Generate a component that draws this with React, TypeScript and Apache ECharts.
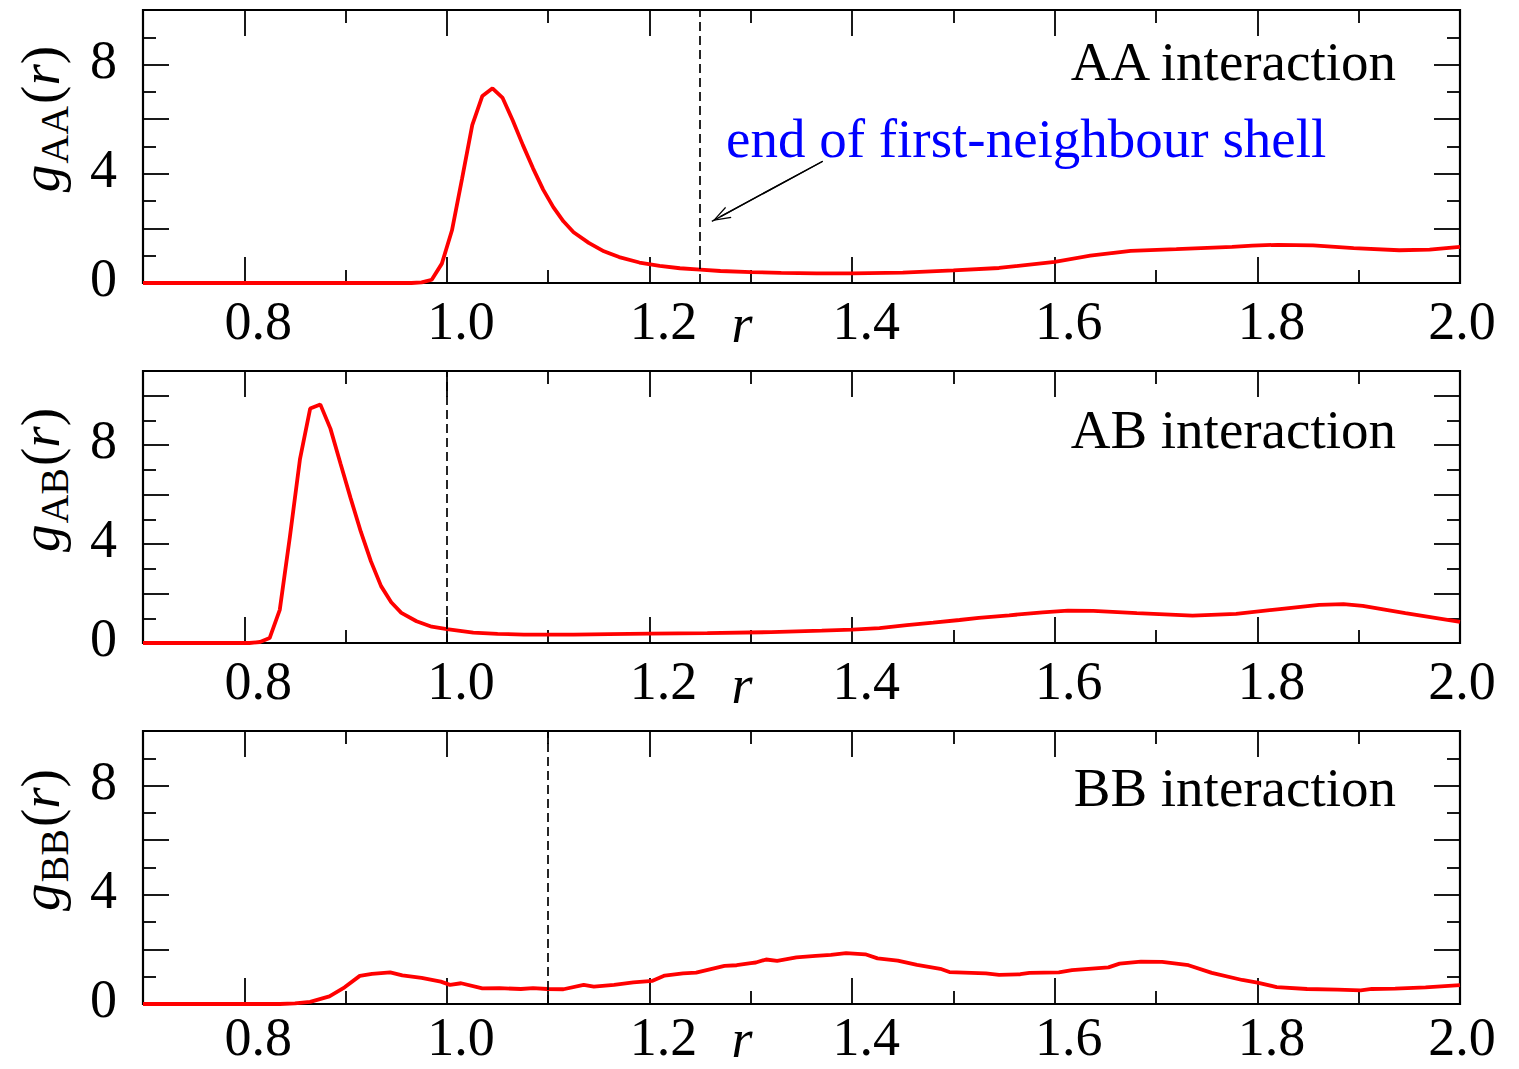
import React, { useEffect, useRef } from 'react';
import * as echarts from 'echarts';

// ---------- data ----------
const rAA = [0.70, 0.965, 0.975, 0.985, 0.995, 1.005, 1.015, 1.025, 1.035, 1.045, 1.055, 1.065, 1.075, 1.085, 1.095, 1.105, 1.115, 1.125, 1.14, 1.155, 1.17, 1.19, 1.21, 1.23, 1.25, 1.27, 1.30, 1.33, 1.365, 1.40, 1.45, 1.50, 1.545, 1.60, 1.635, 1.675, 1.72, 1.775, 1.795, 1.82, 1.855, 1.895, 1.94, 1.97, 2.0];
const gAA = [0, 0, 0.02, 0.12, 0.71, 1.93, 3.83, 5.78, 6.85, 7.13, 6.78, 5.95, 5.05, 4.2, 3.42, 2.78, 2.26, 1.86, 1.47, 1.16, 0.95, 0.75, 0.63, 0.54, 0.49, 0.44, 0.40, 0.37, 0.35, 0.35, 0.38, 0.46, 0.55, 0.77, 1.0, 1.18, 1.24, 1.32, 1.37, 1.40, 1.38, 1.28, 1.20, 1.22, 1.32];

const rAB = [0.70, 0.805, 0.8155, 0.825, 0.835, 0.845, 0.855, 0.865, 0.875, 0.885, 0.895, 0.905, 0.915, 0.925, 0.935, 0.945, 0.955, 0.97, 0.985, 1.0, 1.026, 1.05, 1.076, 1.1, 1.125, 1.16, 1.2, 1.257, 1.32, 1.37, 1.40, 1.427, 1.454, 1.48, 1.506, 1.525, 1.555, 1.588, 1.613, 1.638, 1.681, 1.736, 1.779, 1.822, 1.861, 1.885, 1.904, 1.946, 2.0];
const gAB = [0, 0, 0.04, 0.20, 1.34, 4.30, 7.45, 9.48, 9.65, 8.67, 7.25, 5.85, 4.5, 3.3, 2.3, 1.65, 1.22, 0.88, 0.66, 0.56, 0.42, 0.37, 0.34, 0.34, 0.34, 0.36, 0.38, 0.40, 0.44, 0.5, 0.54, 0.60, 0.72, 0.82, 0.93, 1.02, 1.12, 1.24, 1.31, 1.30, 1.21, 1.11, 1.18, 1.37, 1.54, 1.57, 1.50, 1.21, 0.85];

const rBB = [0.70, 0.835, 0.85, 0.865, 0.884, 0.899, 0.914, 0.926, 0.944, 0.956, 0.975, 0.994, 1.003, 1.014, 1.035, 1.052, 1.073, 1.085, 1.099, 1.115, 1.135, 1.145, 1.165, 1.184, 1.203, 1.215, 1.233, 1.246, 1.274, 1.286, 1.30, 1.305, 1.315, 1.326, 1.345, 1.364, 1.379, 1.394, 1.413, 1.425, 1.445, 1.464, 1.487, 1.496, 1.532, 1.545, 1.566, 1.575, 1.604, 1.617, 1.653, 1.664, 1.685, 1.706, 1.732, 1.755, 1.785, 1.80, 1.819, 1.849, 1.879, 1.902, 1.913, 1.936, 1.966, 2.0];
const gBB = [0, 0, 0.02, 0.08, 0.28, 0.61, 1.03, 1.10, 1.16, 1.05, 0.96, 0.82, 0.70, 0.76, 0.57, 0.58, 0.55, 0.58, 0.55, 0.54, 0.70, 0.64, 0.70, 0.79, 0.85, 1.04, 1.12, 1.15, 1.40, 1.42, 1.50, 1.52, 1.63, 1.58, 1.71, 1.76, 1.80, 1.86, 1.82, 1.67, 1.59, 1.43, 1.29, 1.17, 1.12, 1.07, 1.09, 1.14, 1.16, 1.24, 1.34, 1.48, 1.55, 1.54, 1.42, 1.14, 0.88, 0.78, 0.62, 0.55, 0.53, 0.50, 0.55, 0.56, 0.61, 0.69];

const xTickLabels = [0.8, 1.0, 1.2, 1.4, 1.6, 1.8, 2.0];
const xMajorTicks = [0.8, 1.0, 1.2, 1.4, 1.6, 1.8, 2.0];
const xMinorTicks = [0.9, 1.1, 1.3, 1.5, 1.7, 1.9];
const yTickLabels = [0, 4, 8];
const yMajorTicksList = [[2, 4, 6, 8], [2, 4, 6, 8, 10], [2, 4, 6, 8]];
const yMinorTicks = [1, 3, 5, 7, 9];
const yMaxList = [10, 11, 10];
const shellEnd = [1.25, 1.0, 1.1];
const panelTitles = ['AA interaction', 'AB interaction', 'BB interaction'];
const pairSubs = ['AA', 'AB', 'BB'];
const annotationText = 'end of first-neighbour shell';
const arrowTail = [1.371, 4.46];
const arrowTip = [1.2615, 2.26];
const arrowHeadCenter = [1.27, 2.43];

// ---------- layout / style ----------
const FONT = 'Liberation Serif';
const W = 1519;
const H = 1069;
const gridLeft = 143;
const gridWidth = 1317;
const gridTops = [10, 371, 731];
const gridHeights = [273, 272, 273];
const yLabelCenters = [119, 480, 840];
const titleCenters = [61, 429, 787];
const rLabelCenters = [324, 685, 1039];
const xLabelMargins = [18, 18, 13];

const seriesSets = [
  { r: rAA, g: gAA },
  { r: rAB, g: gAB },
  { r: rBB, g: gBB },
];

const zip = (a: number[], b: number[]) => {
  const n = Math.min(a.length, b.length);
  const out: number[][] = [];
  for (let i = 0; i < n; i++) out.push([a[i], b[i]]);
  return out;
};

const tickStyle = { color: '#000', width: 1.8 };

function buildOption() {
  const grid: any[] = [];
  const xAxis: any[] = [];
  const yAxis: any[] = [];
  const series: any[] = [];
  const graphic: any[] = [];

  for (let gi = 0; gi < 3; gi++) {
    grid.push({
      left: gridLeft, top: gridTops[gi], width: gridWidth, height: gridHeights[gi],
      show: true, borderColor: '#000', borderWidth: 2.2, backgroundColor: 'transparent',
    });

    const mkX = (pos: string, ticks: number[], len: number, labels: boolean) => ({
      type: 'value', gridIndex: gi, position: pos, min: 0.7, max: 2.0,
      axisLine: { show: false, onZero: false },
      splitLine: { show: false },
      axisTick: { show: true, inside: true, length: len, customValues: ticks, lineStyle: tickStyle },
      axisLabel: labels
        ? {
            show: true, customValues: xTickLabels,
            formatter: (v: number) => (v >= 1.99 ? `{e|${v.toFixed(1)}}` : `{t|${v.toFixed(1)}}`),
            margin: xLabelMargins[gi], fontFamily: FONT, fontSize: 54, color: '#000',
            rich: {
              t: { fontFamily: FONT, fontSize: 54, color: '#000', lineHeight: 40, padding: [0, 0, 0, 28] },
              e: { fontFamily: FONT, fontSize: 54, color: '#000', lineHeight: 40, padding: [0, 0, 0, 4] },
            },
          }
        : { show: false },
    });
    xAxis.push(mkX('bottom', xMajorTicks, 26, true));
    xAxis.push(mkX('bottom', xMinorTicks, 13, false));
    xAxis.push(mkX('top', xMajorTicks, 26, false));
    xAxis.push(mkX('top', xMinorTicks, 13, false));

    const mkY = (pos: string, ticks: number[], len: number, labels: boolean) => ({
      type: 'value', gridIndex: gi, position: pos, min: 0, max: yMaxList[gi],
      axisLine: { show: false, onZero: false },
      splitLine: { show: false },
      axisTick: { show: true, inside: true, length: len, customValues: ticks, lineStyle: tickStyle },
      axisLabel: labels
        ? {
            show: true, customValues: yTickLabels, formatter: (v: number) => `{y|${v}}`,
            margin: 26, fontFamily: FONT, fontSize: 54, color: '#000',
            rich: {
              y: { fontFamily: FONT, fontSize: 54, color: '#000', lineHeight: 44, padding: [0, 0, 10, 0] },
            },
          }
        : { show: false },
    });
    yAxis.push(mkY('left', yMajorTicksList[gi], 26, true));
    yAxis.push(mkY('left', yMinorTicks, 13, false));
    yAxis.push(mkY('right', yMajorTicksList[gi], 26, false));
    yAxis.push(mkY('right', yMinorTicks, 13, false));

    const mlData: any[] = [{ xAxis: shellEnd[gi] }];
    if (gi === 0) {
      mlData.push([
        { coord: arrowTail, symbol: 'none', lineStyle: { type: 'solid', width: 1.4, color: '#000' } },
        { coord: arrowTip, symbol: 'none' },
      ]);
      mlData.push([
        { coord: arrowTail, symbol: 'none', lineStyle: { type: 'solid', width: 1.4, color: '#000' } },
        {
          coord: arrowHeadCenter,
          symbol: 'path://M0,18 L6.5,0 L13,18 L11.6,18 L6.5,3.6 L1.4,18 Z',
          symbolSize: [13, 18],
        },
      ]);
    }

    series.push({
      type: 'line',
      xAxisIndex: gi * 4,
      yAxisIndex: gi * 4,
      data: zip(seriesSets[gi].r, seriesSets[gi].g),
      symbol: 'none',
      showSymbol: false,
      lineStyle: { color: '#ff0000', width: 3.8 },
      z: 3,
      markLine: {
        silent: true,
        symbol: ['none', 'none'],
        label: { show: false },
        lineStyle: { type: [9, 5], color: '#000', width: 1.7 },
        data: mlData,
      },
    });

    // panel title
    graphic.push({
      type: 'text', x: 1396, y: titleCenters[gi],
      style: {
        text: panelTitles[gi], fontFamily: FONT, fontSize: 55, fill: '#000',
        align: 'right', verticalAlign: 'middle', lineHeight: 44,
      },
    });
    // x axis symbol r
    graphic.push({
      type: 'text', x: 742, y: rLabelCenters[gi],
      style: {
        text: 'r', fontFamily: FONT, fontStyle: 'italic', fontSize: 54, fill: '#000',
        align: 'center', verticalAlign: 'middle', lineHeight: 36,
      },
    });
    // y axis title g_XY(r)
    graphic.push({
      type: 'text', x: 40, y: yLabelCenters[gi], rotation: Math.PI / 2,
      style: {
        text: `{i|g}{s|${pairSubs[gi]}}{n|(}{i|r}{n|)}`,
        align: 'center', verticalAlign: 'middle',
        rich: {
          i: { fontFamily: FONT, fontStyle: 'italic', fontSize: 55, fill: '#000', verticalAlign: 'middle' },
          n: { fontFamily: FONT, fontSize: 55, fill: '#000', verticalAlign: 'middle' },
          s: { fontFamily: FONT, fontSize: 40, fill: '#000', verticalAlign: 'middle', padding: [28, 2, 0, 1] },
        },
      },
    });
  }

  graphic.push({
    type: 'text', x: 726, y: 138,
    style: {
      text: annotationText, fontFamily: FONT, fontSize: 55, fill: '#0000ff',
      align: 'left', verticalAlign: 'middle', lineHeight: 44,
    },
  });

  return {
    animation: false,
    backgroundColor: '#ffffff',
    textStyle: { fontFamily: FONT },
    grid, xAxis, yAxis, series, graphic,
  };
}

export default function App() {
  const ref = useRef<HTMLDivElement>(null);
  useEffect(() => {
    if (!ref.current) return;
    const chart = echarts.init(ref.current, undefined, { renderer: 'svg' });
    chart.setOption(buildOption() as any);
    return () => chart.dispose();
  }, []);
  return (
    <div
      ref={ref}
      style={{ position: 'absolute', left: 0, top: 0, width: W, height: H, background: '#fff' }}
    />
  );
}
